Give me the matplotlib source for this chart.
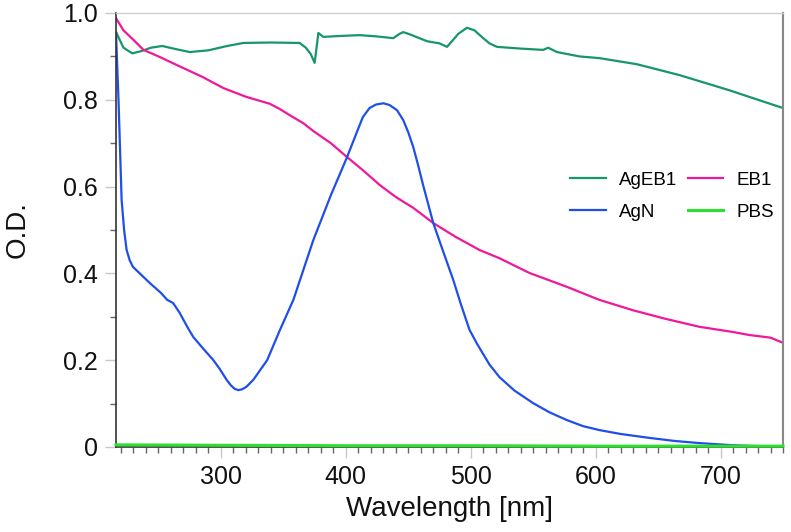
import matplotlib
matplotlib.use("Agg")
import matplotlib.pyplot as plt
from matplotlib.ticker import MultipleLocator, FuncFormatter

plt.rcParams['font.family'] = ['Liberation Sans', 'DejaVu Sans']

# ---- data ----
agEB1_x = [216, 222, 229, 236, 244, 253, 262, 275, 290, 305, 318, 340, 363, 368, 372,
           375, 377, 378, 382, 395, 411, 425, 438, 443, 446, 452, 465, 475, 481, 485,
           490, 497, 503, 510, 515, 521, 540, 558, 562, 569, 587, 603, 633, 667, 707,
           730, 750]
agEB1_y = [0.956, 0.92, 0.907, 0.912, 0.92, 0.924, 0.918, 0.91, 0.914, 0.924, 0.931,
           0.932, 0.931, 0.92, 0.905, 0.885, 0.93, 0.954, 0.945, 0.947, 0.949, 0.946,
           0.942, 0.952, 0.956, 0.95, 0.935, 0.93, 0.922, 0.935, 0.952, 0.966, 0.96,
           0.942, 0.93, 0.922, 0.918, 0.915, 0.92, 0.91, 0.9, 0.896, 0.882, 0.857,
           0.822, 0.8, 0.781]

eb1_x = [216, 222, 230, 238, 250, 267, 285, 302, 320, 339, 347, 356, 366, 374, 388, 401,
         414, 427, 440, 454, 470, 488, 507, 523, 547, 577, 603, 630, 655, 683, 710,
         723, 740, 750]
eb1_y = [0.988, 0.96, 0.938, 0.915, 0.9, 0.877, 0.853, 0.827, 0.807, 0.791, 0.779,
         0.763, 0.746, 0.728, 0.7, 0.668, 0.637, 0.604, 0.576, 0.551, 0.516, 0.484,
         0.454, 0.435, 0.401, 0.369, 0.339, 0.315, 0.296, 0.277, 0.265, 0.258, 0.252,
         0.24]

agN_x = [216, 218, 220.5, 222.5, 224.5, 227, 229.6, 235, 243, 252, 257, 261.6, 264,
         267, 270, 274, 278, 286, 294, 299, 304.5, 308, 311, 314, 317, 320.5, 326, 337,
         347, 358, 374, 388, 401, 408.5, 413.6, 419, 424, 430, 435, 441, 446, 450, 454,
         458, 462, 470, 478, 486, 492, 499, 505, 515, 523, 535, 550, 563, 577, 590, 603,
         620, 643, 663, 683, 710, 730, 750]
agN_y = [0.954, 0.8, 0.569, 0.5, 0.454, 0.43, 0.415, 0.4, 0.378, 0.355, 0.339, 0.332,
         0.322, 0.309, 0.293, 0.272, 0.253, 0.226, 0.2, 0.18, 0.155, 0.142, 0.134, 0.131,
         0.133, 0.139, 0.155, 0.2, 0.268, 0.339, 0.477, 0.58, 0.668, 0.723, 0.76, 0.781,
         0.789, 0.792, 0.788, 0.776, 0.753, 0.725, 0.691, 0.648, 0.602, 0.516, 0.45,
         0.385, 0.33, 0.27, 0.238, 0.19, 0.161, 0.13, 0.101, 0.08, 0.062, 0.048, 0.039,
         0.03, 0.021, 0.014, 0.009, 0.004, 0.002, 0.001]

pbs_x = [216, 300, 400, 500, 600, 700, 750]
pbs_y = [0.005, 0.004, 0.003, 0.003, 0.002, 0.002, 0.002]

labels = ['AgEB1', 'AgN', 'EB1', 'PBS']
colors = {'AgEB1': '#17966a', 'EB1': '#f0189a', 'AgN': '#1f4fe8', 'PBS': '#2ee02e'}

# ---- figure ----
fig = plt.figure(figsize=(7.91, 5.32), dpi=100)
ax = fig.add_axes([116/791, 85/532, (783-116)/791, (447-13)/532])

lw = 1.6
l1, = ax.plot(agEB1_x, agEB1_y, color=colors['AgEB1'], lw=lw, label='AgEB1')
l3, = ax.plot(eb1_x, eb1_y, color=colors['EB1'], lw=lw, label='EB1')
l2, = ax.plot(agN_x, agN_y, color=colors['AgN'], lw=lw, label='AgN')
l4, = ax.plot(pbs_x, pbs_y, color=colors['PBS'], lw=2.2, label='PBS', zorder=3,
              clip_on=False)

ax.set_xlim(216, 750)
ax.set_ylim(0, 1.0)

ax.xaxis.set_major_locator(MultipleLocator(100))
ax.xaxis.set_minor_locator(MultipleLocator(10))
ax.yaxis.set_major_locator(MultipleLocator(0.2))
ax.yaxis.set_minor_locator(MultipleLocator(0.1))
ax.yaxis.set_major_formatter(FuncFormatter(lambda v, p: '0' if abs(v) < 1e-9 else f'{v:.1f}'))

ax.tick_params(which='major', direction='out', length=8, width=1.0, color='#c8c8c8',
               labelsize=18, pad=5, labelcolor='#111111')
ax.tick_params(which='minor', direction='out', length=4.3, width=1.0, color='#666666')

for s in ['left', 'bottom']:
    ax.spines[s].set_color('#333333')
    ax.spines[s].set_linewidth(1.2)
ax.spines['top'].set_color('#d0d0d0')
ax.spines['top'].set_linewidth(1.0)
ax.spines['right'].set_color('#888888')
ax.spines['right'].set_linewidth(1.5)

ax.set_xlabel('Wavelength [nm]', fontsize=20, color='#111111')
ax.set_ylabel('O.D.', fontsize=20, color='#111111')
ax.xaxis.set_label_coords(0.5, -0.112)
ax.yaxis.set_label_coords(-0.128, 0.5)

leg = ax.legend(handles=[l1, l2, l3, l4], labels=labels, ncol=2, loc='upper left',
                bbox_to_anchor=(0.681, 0.635), frameon=False, fontsize=13.5,
                handlelength=1.9, handletextpad=0.7, columnspacing=0.55,
                labelspacing=0.8, borderpad=0, borderaxespad=0)

fig.savefig('out.png', dpi=100)
